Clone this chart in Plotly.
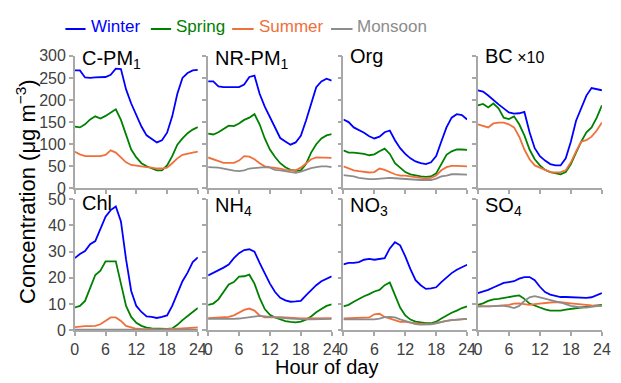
import plotly.graph_objects as go

W, H = 621, 383
hours = list(range(25))
seasons = ["Winter", "Spring", "Summer", "Monsoon"]
colors = {"Winter": "#0000ff", "Spring": "#008000", "Summer": "#f0703c", "Monsoon": "#8c8c8c"}

# ---- data ----
cpm1_winter = [267, 267, 251, 250, 251, 252, 252, 257, 271, 270, 224, 192, 165, 140, 120, 112, 104, 109, 126, 163, 214, 250, 261, 267, 268]
cpm1_spring = [140, 138, 145, 156, 163, 158, 164, 171, 179, 155, 120, 88, 70, 57, 50, 45, 41, 41, 52, 73, 99, 113, 125, 133, 139]
cpm1_summer = [83, 77, 73, 73, 72, 73, 76, 86, 81, 70, 59, 53, 51, 50, 48, 47, 45, 45, 47, 57, 68, 76, 79, 81, 83]

nrpm1_winter = [242, 242, 231, 229, 229, 229, 229, 235, 252, 255, 214, 185, 160, 135, 114, 106, 99, 104, 119, 153, 194, 229, 242, 248, 244]
nrpm1_spring = [124, 122, 127, 135, 142, 141, 147, 155, 160, 168, 145, 113, 88, 71, 57, 48, 42, 40, 41, 55, 81, 100, 113, 120, 123]
nrpm1_summer = [70, 66, 61, 58, 58, 58, 63, 73, 72, 66, 57, 50, 48, 47, 45, 42, 41, 41, 47, 57, 66, 70, 70, 70, 69]
nrpm1_monsoon = [48, 48, 47, 45, 42, 40, 39, 41, 45, 46, 47, 48, 47, 42, 41, 39, 37, 35, 38, 42, 46, 48, 50, 50, 48]

org_winter = [156, 150, 138, 132, 126, 118, 113, 117, 127, 131, 109, 91, 78, 68, 61, 57, 55, 59, 73, 106, 138, 160, 168, 166, 156]
org_spring = [86, 81, 81, 80, 78, 75, 77, 84, 90, 78, 57, 47, 37, 32, 29, 27, 26, 27, 34, 55, 76, 84, 88, 88, 87]
org_summer = [50, 45, 41, 39, 37, 36, 37, 45, 42, 37, 32, 29, 29, 27, 25, 24, 23, 24, 29, 41, 48, 51, 51, 51, 50]
org_monsoon = [30, 29, 27, 24, 22, 21, 21, 22, 24, 24, 23, 22, 22, 21, 20, 19, 19, 19, 22, 27, 29, 32, 32, 32, 31]

bc_winter = [222, 219, 210, 199, 190, 181, 172, 169, 170, 173, 127, 91, 73, 63, 55, 52, 52, 68, 106, 153, 181, 210, 227, 224, 222]
bc_spring = [188, 191, 183, 192, 181, 160, 157, 163, 145, 120, 88, 66, 52, 42, 37, 34, 32, 37, 55, 81, 106, 127, 138, 160, 188]
bc_summer = [145, 141, 138, 147, 149, 149, 145, 138, 117, 88, 66, 52, 47, 41, 37, 36, 37, 41, 59, 84, 106, 109, 117, 131, 149]

chl_winter = [27.5, 29.1, 30.2, 32.8, 34.0, 39.0, 43.3, 45.8, 47.2, 41.5, 27.0, 15.0, 9.3, 7.0, 5.3, 5.1, 4.7, 5.1, 5.7, 9.3, 14.2, 18.7, 22.0, 26.0, 27.8]
chl_spring = [8.7, 9.3, 11.2, 16.0, 21.1, 22.7, 26.3, 26.3, 26.3, 17.8, 9.3, 5.1, 2.9, 1.7, 1.0, 0.7, 0.6, 0.6, 0.5, 0.7, 2.1, 3.9, 5.3, 7.0, 8.5]
chl_summer = [1.2, 1.5, 1.6, 1.6, 1.7, 2.3, 3.6, 4.9, 4.9, 3.6, 1.7, 1.0, 0.6, 0.5, 0.4, 0.4, 0.4, 0.4, 0.4, 0.5, 0.6, 0.7, 0.8, 1.0, 1.1]
chl_monsoon = [0.3, 0.3, 0.3, 0.3, 0.3, 0.3, 0.3, 0.3, 0.3, 0.3, 0.3, 0.3, 0.3, 0.3, 0.3, 0.3, 0.3, 0.3, 0.3, 0.3, 0.3, 0.3, 0.3, 0.3, 0.3]

nh4_winter = [20.9, 21.8, 22.7, 23.9, 25.1, 27.5, 29.4, 30.6, 30.9, 30.0, 25.7, 21.5, 17.8, 14.6, 12.4, 11.4, 10.9, 11.0, 11.2, 13.3, 15.4, 17.2, 18.7, 19.7, 20.6]
nh4_spring = [9.7, 10.2, 11.8, 14.6, 17.5, 18.4, 20.5, 20.6, 21.2, 17.8, 12.4, 8.1, 5.9, 4.9, 4.1, 3.5, 3.2, 3.0, 3.3, 4.1, 5.3, 6.9, 8.1, 9.3, 9.9]
nh4_summer = [4.6, 4.7, 4.9, 4.9, 5.1, 5.7, 6.8, 7.8, 8.3, 7.5, 5.7, 4.9, 4.9, 5.0, 5.0, 4.9, 4.7, 4.6, 4.5, 4.5, 4.5, 4.5, 4.5, 4.6, 4.6]
nh4_monsoon = [4.4, 4.4, 4.4, 4.2, 4.2, 4.4, 4.5, 4.7, 5.1, 5.3, 5.5, 5.3, 5.1, 4.9, 4.7, 4.6, 4.5, 4.4, 4.2, 4.2, 4.2, 4.2, 4.4, 4.4, 4.4]

no3_winter = [25.1, 25.7, 25.7, 26.0, 26.9, 27.2, 26.9, 27.2, 27.5, 31.2, 33.6, 32.4, 28.2, 23.3, 19.1, 17.2, 15.8, 16.0, 16.4, 18.4, 20.3, 21.8, 23.1, 24.2, 25.0]
no3_spring = [9.1, 9.7, 10.9, 12.1, 13.0, 13.8, 14.8, 15.4, 17.2, 18.2, 13.6, 8.7, 5.7, 4.1, 3.3, 2.9, 2.7, 2.7, 3.3, 4.5, 5.7, 6.7, 7.5, 8.5, 9.1]
no3_summer = [4.5, 4.6, 4.6, 4.6, 4.7, 4.9, 6.1, 6.3, 5.1, 4.5, 3.6, 3.2, 3.2, 2.9, 2.7, 2.5, 2.4, 2.4, 2.7, 3.2, 3.6, 3.9, 4.1, 4.2, 4.4]
no3_monsoon = [4.2, 4.2, 4.2, 4.2, 4.2, 4.2, 4.2, 4.5, 5.0, 5.1, 4.9, 4.2, 3.5, 2.9, 2.4, 2.2, 2.2, 2.3, 2.7, 3.3, 3.6, 3.9, 4.1, 4.2, 4.4]

so4_winter = [14.2, 14.8, 15.4, 16.3, 17.2, 18.1, 18.4, 18.7, 19.7, 20.3, 20.3, 19.1, 16.6, 14.6, 13.6, 13.0, 12.7, 12.7, 12.6, 12.4, 12.4, 12.4, 12.6, 13.3, 14.2]
so4_spring = [9.7, 10.3, 11.2, 11.8, 12.0, 12.4, 12.6, 13.0, 13.3, 12.0, 10.2, 9.3, 8.7, 8.0, 7.5, 7.5, 7.5, 7.9, 8.1, 8.5, 8.7, 9.0, 9.3, 9.5, 9.7]
so4_summer = [9.3, 9.1, 9.1, 9.2, 9.3, 9.5, 9.7, 10.2, 10.3, 10.0, 9.7, 10.0, 10.2, 10.6, 10.8, 10.8, 10.7, 10.4, 10.3, 10.1, 10.0, 9.7, 9.5, 9.3, 9.3]
so4_monsoon = [9.0, 9.0, 9.1, 9.2, 9.3, 9.3, 9.0, 8.5, 9.3, 11.2, 12.6, 13.0, 12.6, 12.1, 11.8, 11.2, 10.6, 10.0, 9.3, 9.0, 8.7, 8.7, 9.0, 9.2, 9.3]

panel_labels = ["C-PM<sub>1</sub>", "NR-PM<sub>1</sub>", "Org", "BC<span style='font-size:16px'> ×10</span>",
                "Chl", "NH<sub>4</sub>", "NO<sub>3</sub>", "SO<sub>4</sub>"]
panel_data = [
    {"Winter": cpm1_winter, "Spring": cpm1_spring, "Summer": cpm1_summer},
    {"Winter": nrpm1_winter, "Spring": nrpm1_spring, "Summer": nrpm1_summer, "Monsoon": nrpm1_monsoon},
    {"Winter": org_winter, "Spring": org_spring, "Summer": org_summer, "Monsoon": org_monsoon},
    {"Winter": bc_winter, "Spring": bc_spring, "Summer": bc_summer},
    {"Winter": chl_winter, "Spring": chl_spring, "Summer": chl_summer, "Monsoon": chl_monsoon},
    {"Winter": nh4_winter, "Spring": nh4_spring, "Summer": nh4_summer, "Monsoon": nh4_monsoon},
    {"Winter": no3_winter, "Spring": no3_spring, "Summer": no3_summer, "Monsoon": no3_monsoon},
    {"Winter": so4_winter, "Spring": so4_spring, "Summer": so4_summer, "Monsoon": so4_monsoon},
]
x_ticks = [0, 6, 12, 18, 24]
top_yticks = [0, 50, 100, 150, 200, 250, 300]
bot_yticks = [0, 10, 20, 30, 40, 50]

# ---- layout geometry (pixels) ----
col_px = [(72.3, 198.0), (208.5, 334.7), (346.7, 473.0), (484.0, 610.7)]
row_px = [(50.0, 188.8), (200.0, 337.3)]
label_cy = [50.0, 204.0]

def px_x(p):
    return p / W

def px_y(p):
    return 1 - p / H

fig = go.Figure()
axis_color = "#a8a8a8"
base_font = "Liberation Sans, Arial, sans-serif"
tick_font = dict(family=base_font, size=16, color="#404040")
layout = {}
annotations = []
for i in range(8):
    r, c = divmod(i, 4)
    n = i + 1
    xa = "x" if n == 1 else f"x{n}"
    ya = "y" if n == 1 else f"y{n}"
    xkey = "xaxis" if n == 1 else f"xaxis{n}"
    ykey = "yaxis" if n == 1 else f"yaxis{n}"
    for s in seasons:
        if s in panel_data[i]:
            fig.add_trace(go.Scatter(x=hours, y=panel_data[i][s], mode="lines",
                                     line=dict(color=colors[s], width=1.8),
                                     xaxis=xa, yaxis=ya, showlegend=False, hoverinfo="skip"))
    x0, x1 = col_px[c]
    y0, y1 = row_px[r]
    layout[xkey] = dict(domain=[px_x(x0), px_x(x1)], range=[0, 24], anchor=ya,
                        tickvals=x_ticks, ticks="outside", ticklen=4, tickcolor=axis_color,
                        tickwidth=1.5, showline=True, linecolor=axis_color, linewidth=1.5,
                        showgrid=False, zeroline=False, showticklabels=(r == 1),
                        tickfont=tick_font)
    layout[ykey] = dict(domain=[px_y(y1), px_y(y0)], range=[0, 300] if r == 0 else [0, 50],
                        anchor=xa, tickvals=top_yticks if r == 0 else bot_yticks,
                        ticks="outside", ticklen=4, tickcolor=axis_color, tickwidth=1.5,
                        showline=True, linecolor=axis_color, linewidth=1.5,
                        showgrid=False, zeroline=False, showticklabels=(c == 0),
                        tickfont=tick_font)
    has_sub = "<sub>" in panel_labels[i]
    annotations.append(dict(text=panel_labels[i], xref="paper", yref="paper",
                            x=px_x(x0 + 5), y=px_y(label_cy[r] + (4 if has_sub else 0)),
                            xanchor="left", yanchor="middle", showarrow=False,
                            font=dict(family=base_font, size=20, color="#000000")))

# axis titles
annotations.append(dict(text="Concentration (μg m<sup>−3</sup>)", xref="paper", yref="paper",
                        x=px_x(23), y=px_y(192), xanchor="center", yanchor="middle",
                        textangle=-90, showarrow=False,
                        font=dict(family=base_font, size=22, color="#000000")))
annotations.append(dict(text="Hour of day", xref="paper", yref="paper",
                        x=px_x(329), y=px_y(376), xanchor="center", yanchor="middle",
                        showarrow=False,
                        font=dict(family=base_font, size=20, color="#000000")))

# legend (drawn manually to match the compact reference legend)
legend_line = {"Winter": (62.7, 83.3, 87.0), "Spring": (150.0, 170.7, 174.0),
               "Summer": (233.0, 255.0, 258.0), "Monsoon": (334.0, 356.0, 359.0)}
shapes = []
for s in seasons:
    a, b, t = legend_line[s]
    shapes.append(dict(type="line", xref="paper", yref="paper", x0=px_x(a), x1=px_x(b),
                       y0=px_y(22), y1=px_y(22), line=dict(color=colors[s], width=2)))
    annotations.append(dict(text=s, xref="paper", yref="paper", x=px_x(t), y=px_y(19),
                            xanchor="left", yanchor="middle", showarrow=False,
                            font=dict(family=base_font, size=17, color=colors[s])))

fig.update_layout(width=W, height=H, margin=dict(l=0, r=0, t=0, b=0),
                  paper_bgcolor="white", plot_bgcolor="white",
                  annotations=annotations, shapes=shapes, **layout)
fig.write_html("out.html")
